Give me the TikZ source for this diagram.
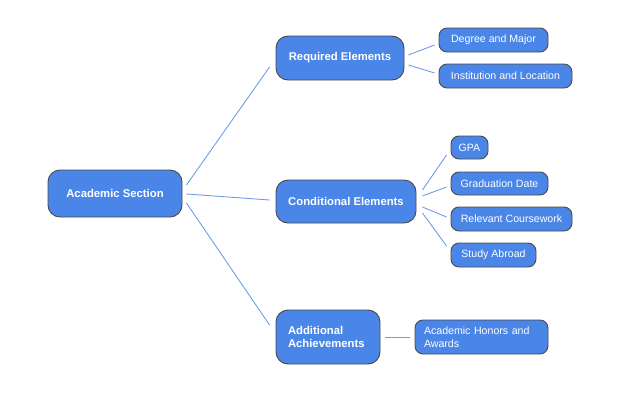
\documentclass[tikz,border=0pt]{standalone}
\usepackage{fontspec}
\setmainfont{Liberation Sans}
\definecolor{nodefill}{HTML}{4A86E8}
\definecolor{nodeline}{HTML}{4A4A4A}
\definecolor{edgecol}{HTML}{6D9EEB}
\begin{document}
\begin{tikzpicture}[x=1pt,y=-1pt,
  base/.style={draw=nodeline, line width=0.9pt, fill=nodefill, text=white, inner sep=0pt},
  main/.style={base, rounded corners=12pt, font=\fontsize{11.3}{13.5}\selectfont\bfseries},
  leaf/.style={base, rounded corners=8pt, font=\fontsize{10.6}{12.5}\selectfont},
  edge/.style={draw=edgecol, line width=0.9pt}]
\useasboundingbox (0,0) rectangle (632,394);
\node[main, minimum width=134pt, minimum height=47pt] (a) at (115,193.5) {Academic Section};
\node[main, minimum width=128pt, minimum height=44pt] (req) at (340,58) {Required Elements};
\node[main, minimum width=140pt, minimum height=43pt] (cond) at (346,201.5) {Conditional Elements};
\node[main, minimum width=104pt, minimum height=54pt, text width=80pt, align=left] (add) at (328,337) {Additional\\Achievements};
\node[leaf, minimum width=109pt, minimum height=24pt] (deg) at (493.5,40) {Degree and Major};
\node[leaf, minimum width=133pt, minimum height=24pt] (inst) at (505.5,76) {Institution and Location};
\node[leaf, minimum width=37pt, minimum height=23pt] (gpa) at (469.5,147.5) {GPA};
\node[leaf, minimum width=97pt, minimum height=23pt] (grad) at (499.5,183.5) {Graduation Date};
\node[leaf, minimum width=121pt, minimum height=24pt] (rel) at (511.5,219) {Relevant Coursework};
\node[leaf, minimum width=85pt, minimum height=24pt] (study) at (493.5,255) {Study Abroad};
\node[leaf, minimum width=133pt, minimum height=34pt, text width=115pt, align=left] (hon) at (481.5,337) {Academic Honors and\\Awards};
\draw[edge] ([xshift=4pt,yshift=8.5pt]a.east) -- ([xshift=-6pt,yshift=-9pt]req.west);
\draw[edge] ([xshift=4pt,yshift=-0.5pt]a.east) -- ([xshift=-6pt,yshift=1.5pt]cond.west);
\draw[edge] ([xshift=4pt,yshift=-9.5pt]a.east) -- ([xshift=-6pt,yshift=12pt]add.west);
\draw[edge] ([xshift=4pt,yshift=3pt]req.east) -- ([xshift=-4pt,yshift=-5pt]deg.west);
\draw[edge] ([xshift=4pt,yshift=-7pt]req.east) -- ([xshift=-4pt,yshift=3pt]inst.west);
\draw[edge] ([xshift=6pt,yshift=11.5pt]cond.east) -- ([xshift=-4pt,yshift=-7.5pt]gpa.west);
\draw[edge] ([xshift=6pt,yshift=5.5pt]cond.east) -- ([xshift=-4pt,yshift=-3.5pt]grad.west);
\draw[edge] ([xshift=6pt,yshift=-5.5pt]cond.east) -- ([xshift=-4pt,yshift=2pt]rel.west);
\draw[edge] ([xshift=6pt,yshift=-11.5pt]cond.east) -- ([xshift=-4pt,yshift=9pt]study.west);
\draw[edge] ([xshift=5pt]add.east) -- ([xshift=-5pt]hon.west);
\end{tikzpicture}
\end{document}
